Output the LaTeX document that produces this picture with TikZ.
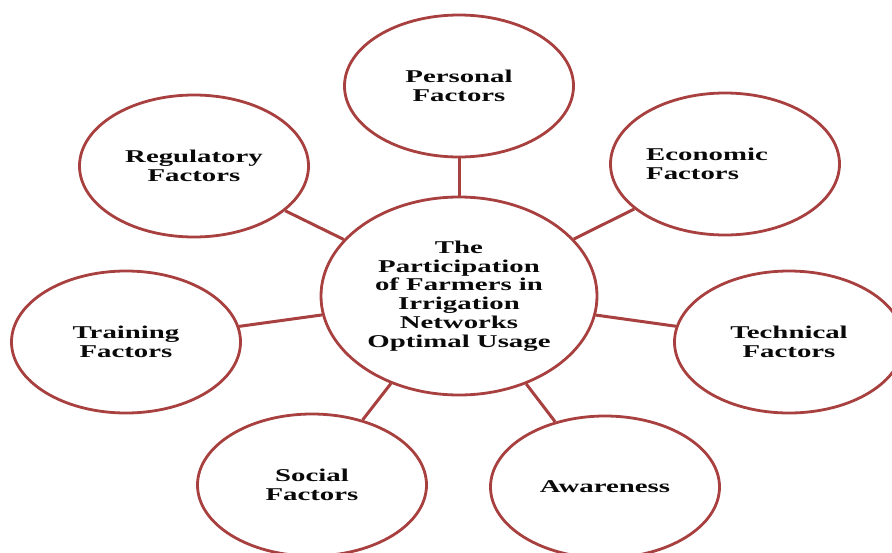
\documentclass[tikz,border=0pt]{standalone}
\usepackage{fontspec}
\setmainfont{Liberation Serif}
\newfontfamily\stretchfont[FakeStretch=1.6]{Liberation Serif Bold}
\usetikzlibrary{shapes.geometric}
\definecolor{ring}{RGB}{168,64,64}
\definecolor{ink}{RGB}{10,10,10}
\tikzset{
  factor/.style={ellipse, draw=ring, line width=2.8pt, fill=white, inner sep=0pt,
    minimum width=229pt, minimum height=142pt, align=center, text=ink,
    font=\stretchfont\fontsize{18}{18.8}\selectfont},
  hub/.style={factor, minimum width=276pt, minimum height=198pt},
  link/.style={draw=ring, line width=3pt}
}
\begin{document}
\begin{tikzpicture}[x=1pt,y=-1pt]
\useasboundingbox (0,0) rectangle (892,552);
\node[hub] (c) at (459,296) {The\\Participation\\of Farmers in\\Irrigation\\Networks\\Optimal Usage};
\node[factor] (p) at (459,86) {Personal\\Factors};
\node[factor, align=left] (e) at (725,164) {\hspace*{-36pt}Economic\\\hspace*{-36pt}Factors};
\node[factor] (r) at (194,166) {Regulatory\\Factors};
\node[factor] (tr) at (126,342) {Training\\Factors};
\node[factor] (te) at (789,342) {Technical\\Factors};
\node[factor] (s) at (312,485) {Social\\Factors};
\node[factor] (a) at (605,487) {Awareness};
\foreach \n in {p,r,e,tr,te,s,a} \draw[link] (c) -- (\n);
\end{tikzpicture}
\end{document}
